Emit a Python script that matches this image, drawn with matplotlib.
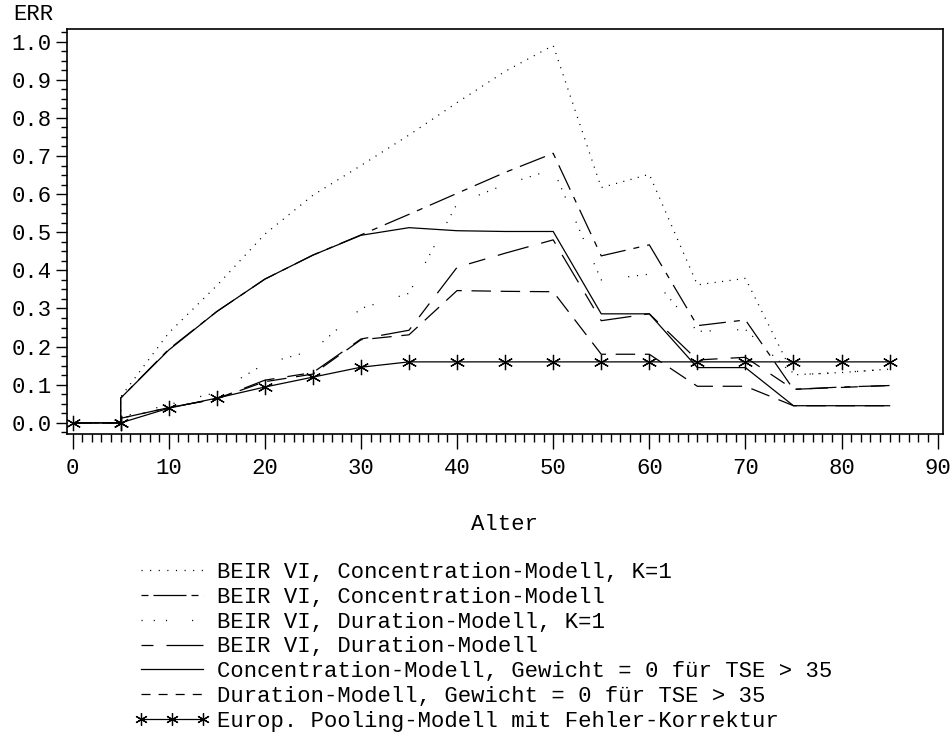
import numpy as np
import matplotlib
matplotlib.use("Agg")
import matplotlib.pyplot as plt
from matplotlib.lines import Line2D
from matplotlib.ticker import MultipleLocator, StrMethodFormatter

plt.rcParams['font.family'] = ['Liberation Mono', 'DejaVu Sans Mono']
plt.rcParams['lines.scale_dashes'] = False

# age 5 appears twice: the curves jump from 0 to their first value there
ages = [0, 5, 5, 10, 15, 20, 25, 30, 35, 40, 45, 50, 55, 60, 65, 70, 75, 80, 85]

beir_conc_k1 = [0, 0, 0.068, 0.236, 0.36, 0.495, 0.597, 0.675, 0.755, 0.84, 0.922, 0.99,
                0.617, 0.652, 0.362, 0.379, 0.126, 0.132, 0.141]
beir_conc = [0, 0, 0.065, 0.193, 0.292, 0.377, 0.44, 0.493, 0.547, 0.602, 0.657, 0.707,
             0.438, 0.467, 0.255, 0.27, 0.088, 0.094, 0.098]
beir_dur_k1 = [0, 0, 0.015, 0.048, 0.08, 0.155, 0.19, 0.30, 0.34, 0.575, 0.625, 0.665,
               0.375, 0.39, 0.24, 0.245, 0.126, 0.132, 0.141]
beir_dur = [0, 0, 0.012, 0.04, 0.063, 0.112, 0.132, 0.22, 0.243, 0.408, 0.445, 0.48,
            0.268, 0.286, 0.165, 0.172, 0.088, 0.093, 0.098]
conc_w0 = [0, 0, 0.065, 0.191, 0.292, 0.377, 0.44, 0.492, 0.512, 0.504, 0.502, 0.502,
           0.286, 0.286, 0.145, 0.145, 0.045, 0.045, 0.045]
dur_w0 = [0, 0, 0.012, 0.04, 0.063, 0.108, 0.128, 0.218, 0.231, 0.347, 0.345, 0.344,
          0.18, 0.18, 0.096, 0.096, 0.045, 0.045, 0.045]
pooling = [0, 0, 0, 0.0385, 0.065, 0.094, 0.12, 0.146, 0.16, 0.16, 0.16, 0.16,
           0.16, 0.16, 0.16, 0.16, 0.16, 0.16, 0.16]

labels = [
    "BEIR VI, Concentration-Modell, K=1",
    "BEIR VI, Concentration-Modell",
    "BEIR VI, Duration-Modell, K=1",
    "BEIR VI, Duration-Modell",
    "Concentration-Modell, Gewicht = 0 für TSE > 35",
    "Duration-Modell, Gewicht = 0 für TSE > 35",
    "Europ. Pooling-Modell mit Fehler-Korrektur",
]

series = [beir_conc_k1, beir_conc, beir_dur_k1, beir_dur, conc_w0, dur_w0, pooling]
# dash patterns in the plot area
styles = [
    (0, (0.8, 4.6)),
    (0, (19.4, 5.8, 4.3, 5.8)),
    (0, (0.8, 5.6, 0.8, 5.6, 0.8, 19)),
    (0, (12.2, 9.4, 23, 9.4)),
    '-',
    (0, (14, 7)),
    '-',
]
# the legend samples use shorter patterns
legend_styles = [
    (0, (0.8, 5.4)),
    (0, (5, 3.6, 23.8, 3.6)),
    (0, (0.8, 8, 0.8, 8, 0.8, 18)),
    (0, (8.6, 9.4, 26.6, 9.4)),
    '-',
    (0, (6.5, 5.8)),
    '-',
]

fig = plt.figure(figsize=(9.51, 7.33), dpi=100)
ax = fig.add_axes([0.0701, 0.408, 0.9215, 0.5524])

handles = []
for vals, ls, lls, lab in zip(series, styles, legend_styles, labels):
    kw = dict(color='black', lw=0.9)
    if lab.startswith("Europ."):
        kw.update(marker=(6, 2, 0), mew=0.9)
        ax.plot(ages, vals, linestyle=ls, ms=11, **kw)
    else:
        ax.plot(ages, vals, linestyle=ls, **kw)
    handles.append(Line2D([], [], linestyle=lls, ms=9, label=lab, **kw))

ax.set_xlim(-0.62, 90.56)
ax.set_ylim(-0.029, 1.033)
ax.xaxis.set_major_locator(MultipleLocator(10))
ax.xaxis.set_minor_locator(MultipleLocator(1))
ax.yaxis.set_major_locator(MultipleLocator(0.1))
ax.yaxis.set_minor_locator(MultipleLocator(0.025))
ax.yaxis.set_major_formatter(StrMethodFormatter("{x:.1f}"))
ax.tick_params(which='major', axis='x', length=11, width=1, direction='out', labelsize=16, pad=6)
ax.tick_params(which='minor', axis='x', length=6, width=1, direction='out')
ax.tick_params(which='major', axis='y', length=8, width=1, direction='out', labelsize=16, pad=3)
ax.tick_params(which='minor', axis='y', length=4.5, width=1, direction='out')
for sp in ax.spines.values():
    sp.set_linewidth(1.2)

ax.set_xlabel("Alter", fontsize=16, va='center')
ax.xaxis.set_label_coords(0.5, -91 / 405)
fig.text(13 / 951, 1 - 14 / 733, "ERR", fontsize=16, ha='left', va='center')

fig.legend(handles=handles, loc='upper left', bbox_to_anchor=(134 / 951, 1 - 562 / 733),
           frameon=False, fontsize=16, borderpad=0, borderaxespad=0, handlelength=3.4,
           handletextpad=0.32, labelspacing=0.17, numpoints=3)

fig.savefig("out.png", dpi=100)
